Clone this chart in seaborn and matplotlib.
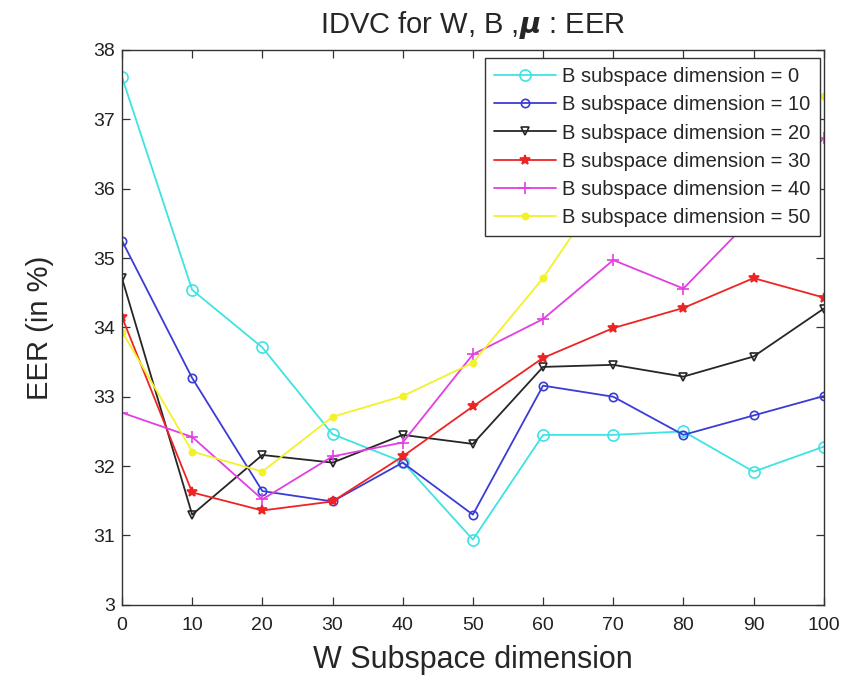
import matplotlib
matplotlib.use("Agg")
import matplotlib.pyplot as plt
import seaborn as sns
import pandas as pd

w_dims = [0, 10, 20, 30, 40, 50, 60, 70, 80, 90, 100]
b_dims = [0, 10, 20, 30, 40, 50]

eer_b0 = [37.61, 34.54, 33.71, 32.46, 32.06, 30.94, 32.45, 32.45, 32.50, 31.92, 32.28]
eer_b10 = [35.25, 33.27, 31.64, 31.49, 32.05, 31.30, 33.16, 33.00, 32.45, 32.73, 33.01]
eer_b20 = [34.71, 31.30, 32.16, 32.05, 32.45, 32.32, 33.43, 33.46, 33.29, 33.58, 34.27]
eer_b30 = [34.15, 31.62, 31.36, 31.49, 32.14, 32.86, 33.56, 33.99, 34.28, 34.71, 34.43]
eer_b40 = [32.77, 32.42, 31.52, 32.14, 32.34, 33.61, 34.12, 34.97, 34.56, 35.60, 36.73]
eer_b50 = [33.94, 32.21, 31.92, 32.71, 33.01, 33.49, 34.71, 36.20, 36.70, 37.00, 37.33]

y_ticks = [30, 31, 32, 33, 34, 35, 36, 37, 38]
y_tick_labels = ["3", "31", "32", "33", "34", "35", "36", "37", "38"]
x_ticks = [0, 10, 20, 30, 40, 50, 60, 70, 80, 90, 100]

sns.set_style("ticks")
plt.rcParams["font.family"] = ["Liberation Sans", "DejaVu Sans"]
plt.rcParams["mathtext.fontset"] = "dejavusans"

series = [eer_b0, eer_b10, eer_b20, eer_b30, eer_b40, eer_b50]
colors = ["#3fe3e3", "#3b3bd6", "#262626", "#ee2424", "#e23fe2", "#f2f22a"]
markers = ["o", "o", "v", "*", "+", "."]
msizes = [8, 6, 6, 7, 9, 9]

frames = []
for b, vals in zip(b_dims, series):
    frames.append(pd.DataFrame({"W": w_dims, "EER": vals,
                                "label": f"B subspace dimension = {b}"}))
df = pd.concat(frames, ignore_index=True)

fig = plt.figure(figsize=(8.59, 6.75), dpi=100)
ax = fig.add_axes([0.142, 0.104, 0.817, 0.822])

for (lab, sub), c, m, ms in zip(df.groupby("label", sort=False), colors, markers, msizes):
    sns.lineplot(data=sub, x="W", y="EER", ax=ax, color=c, marker=m,
                 markersize=ms, markerfacecolor="none" if m in ("o", "v") else c,
                 markeredgecolor=c, markeredgewidth=1.2, linewidth=1.3,
                 label=lab, clip_on=True)

ax.set_xlim(0, 100)
ax.set_ylim(30, 38)
ax.set_xticks(x_ticks)
ax.set_yticks(y_ticks)
ax.set_yticklabels(y_tick_labels)
ax.tick_params(direction="in", top=True, right=True, labelsize=14,
               length=6, width=0.9, colors="#333333", labelcolor="#222222")
ax.tick_params(axis="x", pad=9)
ax.tick_params(axis="y", pad=5)
for s in ax.spines.values():
    s.set_visible(True)
    s.set_color("#333333")
    s.set_linewidth(1.0)

ax.set_xlabel("W Subspace dimension", fontsize=22, labelpad=8)
ax.set_ylabel("EER (in %)", fontsize=21, labelpad=28)
try:
    ax.set_title(r"IDVC for W, B ,$\mathbfit{\mu}$ : EER", fontsize=21, pad=12)
    fig.canvas.draw()
except Exception:
    ax.set_title(r"IDVC for W, B ,$\mathbf{\mu}$ : EER", fontsize=21, pad=12)

leg = ax.legend(loc="upper right", bbox_to_anchor=(0.9943, 0.9856),
                fontsize=14.5, frameon=True, fancybox=False,
                edgecolor="#333333", framealpha=1.0, handlelength=3.1,
                handletextpad=0.3, labelspacing=0.46, borderpad=0.45,
                borderaxespad=0.0)
leg.get_frame().set_linewidth(1.0)

fig.savefig("out.png", dpi=100)
